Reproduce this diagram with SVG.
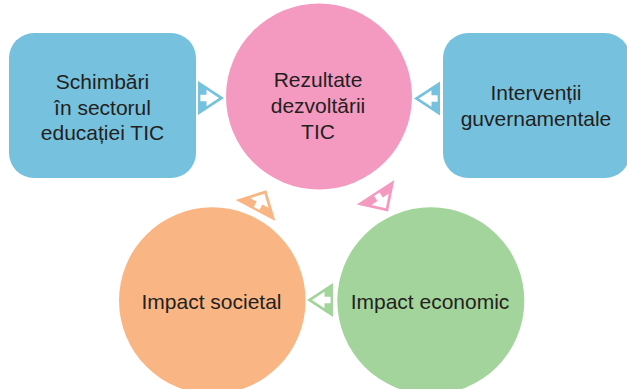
<svg xmlns="http://www.w3.org/2000/svg" width="627" height="389" viewBox="0 0 627 389">
  <style>
    .lbl { font-family: "Liberation Sans", Arial, sans-serif; font-size: 21px; fill: #231f20; text-anchor: middle; }
    .blue { fill: #76c1dd; }
    .pink { fill: #f49ac1; }
    .green { fill: #a3d49c; }
    .orange { fill: #f9b684; }
  </style>
  <defs>
    <path id="arrH" fill-rule="evenodd" d="M0,-17 L26,0 L0,17 Z M2.4,-3.2 L8.5,-3.2 L8.5,-8.3 L21,0 L8.5,8.3 L8.5,3.2 L2.4,3.2 Z"/>
    <path id="arrD" fill-rule="evenodd" d="M0,-22.5 L23,0 L0,22.5 Z M2.4,-3.2 L8.5,-3.2 L8.5,-10.3 L19,0 L8.5,10.3 L8.5,3.2 L2.4,3.2 Z"/>
  </defs>
  <rect width="627" height="389" fill="#ffffff"/>

  <g id="node-schimbari">
    <rect class="blue" x="9" y="33" width="187" height="145" rx="25" ry="25"/>
    <text class="lbl" x="102.5" y="89"><tspan x="102.5" y="89">Schimbări</tspan><tspan x="102.5" y="114.5">în sectorul</tspan><tspan x="102.5" y="140">educației TIC</tspan></text>
  </g>

  <g id="node-rezultate">
    <circle class="pink" cx="319" cy="96.5" r="93"/>
    <text class="lbl" x="318" y="87"><tspan x="318" y="87">Rezultate</tspan><tspan x="318" y="113">dezvoltării</tspan><tspan x="318" y="139">TIC</tspan></text>
  </g>

  <g id="node-interventii">
    <rect class="blue" x="443" y="33" width="187" height="145" rx="25" ry="25"/>
    <text class="lbl" x="536" y="100"><tspan x="536" y="100">Intervenții</tspan><tspan x="536" y="126">guvernamentale</tspan></text>
  </g>

  <g id="node-societal">
    <circle class="orange" cx="212.3" cy="300.6" r="93.3"/>
    <text class="lbl" x="211.5" y="309">Impact societal</text>
  </g>

  <g id="node-economic">
    <circle class="green" cx="430.8" cy="300.8" r="93.5"/>
    <text class="lbl" x="430" y="309">Impact economic</text>
  </g>

  <g id="connectors">
    <use href="#arrH" class="blue" transform="translate(198,98)"/>
    <use href="#arrH" class="blue" transform="translate(440,98.5) rotate(180)"/>
    <use href="#arrH" class="green" transform="translate(333,300) rotate(180)"/>
    <use href="#arrD" class="pink" transform="translate(375.5,192.2) rotate(57)"/>
    <use href="#arrD" class="orange" transform="translate(255.5,210.5) rotate(-62)"/>
  </g>
</svg>
